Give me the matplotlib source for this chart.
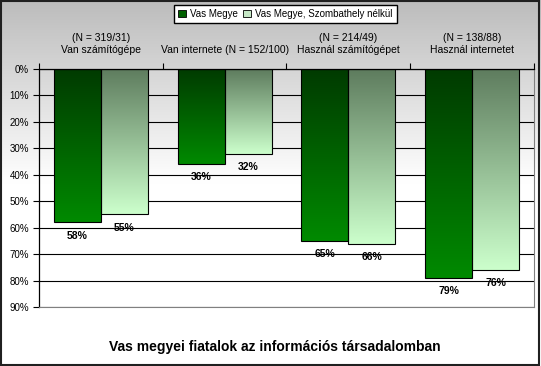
import numpy as np
import matplotlib
matplotlib.use("Agg")
import matplotlib.pyplot as plt
from matplotlib.colors import LinearSegmentedColormap
from matplotlib.patches import Patch, Rectangle

plt.rcParams['font.family'] = ['Liberation Sans', 'DejaVu Sans']

# data
cat_labels = ["(N = 319/31)\nVan számítógépe",
              "Van internete (N = 152/100)",
              "(N = 214/49)\nHasznál számítógépet",
              "(N = 138/88)\nHasznál internetet"]
series_names = ["Vas Megye", "Vas Megye, Szombathely nélkül"]
vas_megye = [58, 36, 65, 79]
vas_no_szomb = [55, 32, 66, 76]
y_ticks = [0, 10, 20, 30, 40, 50, 60, 70, 80, 90]
title = "Vas megyei fiatalok az információs társadalomban"

fig = plt.figure(figsize=(5.41, 3.66), dpi=100)

# gray -> white background gradient for the whole chart
bg = fig.add_axes([0, 0, 1, 1], zorder=-10)
bg_cmap = LinearSegmentedColormap.from_list("bg", ["#bcbcbc", "#ffffff", "#ffffff"])
bg.imshow(np.linspace(0, 1, 256).reshape(-1, 1), aspect='auto', cmap=bg_cmap,
          extent=[0, 1, 0, 1], origin='upper')
bg.set_axis_off()
fig.add_artist(Rectangle((0.002, 0.003), 0.994, 0.994, transform=fig.transFigure,
                         fill=False, edgecolor="#202020", linewidth=1.5))

ax = fig.add_axes([0.072, 0.161, 0.915, 0.651])
ax.set_facecolor("none")

x = np.arange(len(cat_labels))
w = 0.38
dark_cmap = LinearSegmentedColormap.from_list("dark", ["#003a00", "#008a00"])
light_cmap = LinearSegmentedColormap.from_list("light", ["#5e7c5e", "#ccffcc"])

grad = np.linspace(0, 1, 256).reshape(-1, 1)
for vals, off, cmap in [(vas_megye, -w / 2, dark_cmap), (vas_no_szomb, w / 2, light_cmap)]:
    bars = ax.bar(x + off, vals, w, facecolor="none", edgecolor="black",
                  linewidth=0.8, zorder=3)
    for rect, v in zip(bars, vals):
        x0 = rect.get_x()
        im = ax.imshow(grad, aspect='auto', cmap=cmap, origin='lower',
                       extent=[x0, x0 + rect.get_width(), 0, v], zorder=2)
        im.set_clip_path(rect)
        ax.annotate(f"{v}%", (rect.get_x() + rect.get_width() / 2, v),
                    xytext=(0, -9.5), textcoords='offset points', ha='center',
                    va='center', fontsize=7.5, fontweight='bold')

ax.set_xlim(-0.5, len(cat_labels) - 0.5)
ax.set_ylim(90, 0)

ax.set_yticks(y_ticks)
ax.set_yticklabels([f"{v}%" for v in y_ticks], fontsize=7)
ax.yaxis.grid(True, color="black", linewidth=0.8, zorder=1)
ax.set_axisbelow(True)
ax.tick_params(axis='y', direction='out', length=4, width=0.8, pad=3)

ax.xaxis.tick_top()
ax.set_xticks(x)
ax.set_xticklabels(cat_labels, fontsize=7.5, linespacing=1.3)
ax.tick_params(axis='x', which='major', length=0, pad=10)
ax.set_xticks(np.arange(len(cat_labels) + 1) - 0.5, minor=True)
ax.tick_params(axis='x', which='minor', direction='out', length=4, width=0.8, top=True)

for side in ["left", "top"]:
    ax.spines[side].set_color("black")
    ax.spines[side].set_linewidth(0.9)
ax.spines["right"].set_color("#808080")
ax.spines["bottom"].set_color("#808080")

handles = [Patch(facecolor="#006000", edgecolor="black", linewidth=0.6),
           Patch(facecolor="#c6e8c6", edgecolor="black", linewidth=0.6)]
fig.legend(handles, series_names, loc='center', bbox_to_anchor=(0.527, 0.962),
           ncol=2, fontsize=7, frameon=True, fancybox=False, edgecolor="black",
           framealpha=1, handlelength=0.8, handleheight=0.8, handletextpad=0.4,
           columnspacing=0.6, borderpad=0.45)

fig.text(0.508, 0.052, title, ha='center', va='center', fontsize=10, fontweight='bold')

fig.savefig("out.png", dpi=100)
